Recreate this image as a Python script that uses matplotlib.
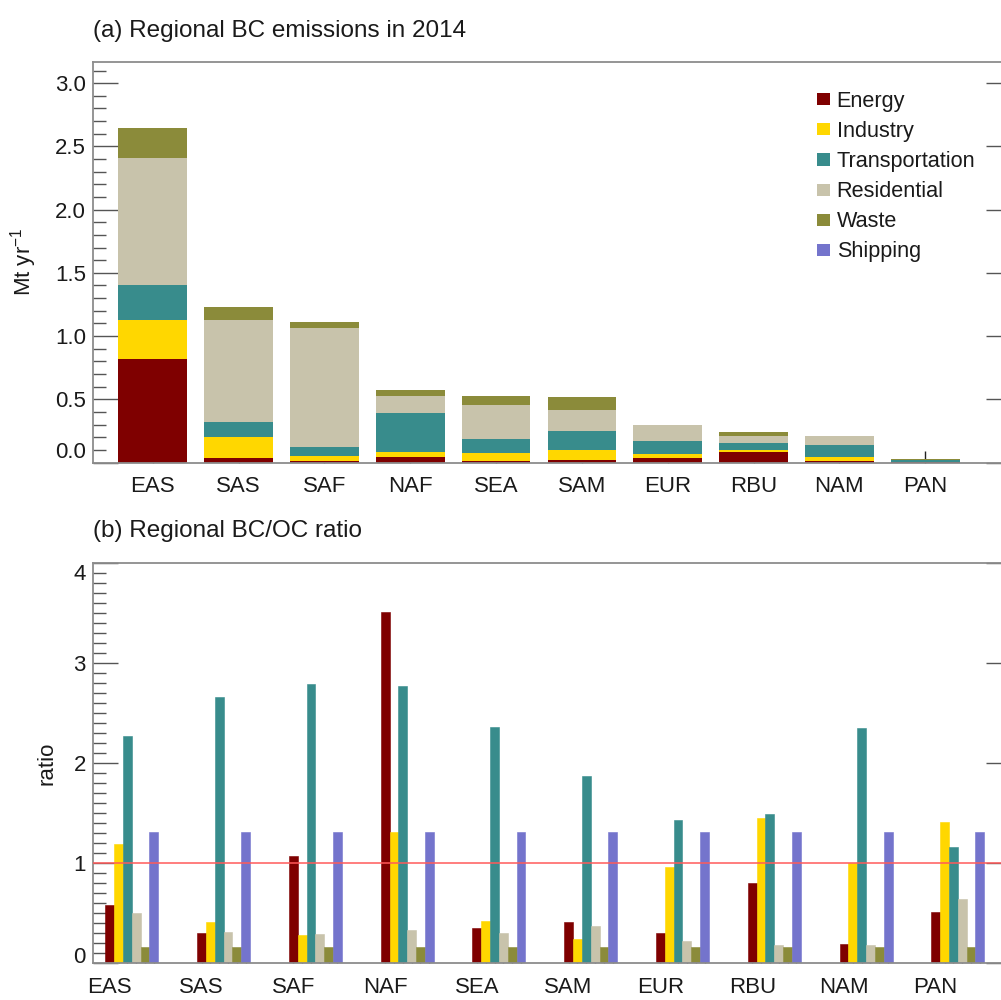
import matplotlib
matplotlib.use("Agg")
import matplotlib.pyplot as plt
from matplotlib.patches import Patch
from matplotlib.ticker import FixedLocator, MultipleLocator
from matplotlib.transforms import ScaledTranslation
import numpy as np

plt.rcParams["font.family"] = ["Liberation Sans", "DejaVu Sans"]
plt.rcParams["mathtext.fontset"] = "custom"
plt.rcParams["mathtext.rm"] = "Liberation Sans"
plt.rcParams["mathtext.it"] = "Liberation Sans:italic"

regions = ["EAS", "SAS", "SAF", "NAF", "SEA", "SAM", "EUR", "RBU", "NAM", "PAN"]
sectors = ["Energy", "Industry", "Transportation", "Residential", "Waste", "Shipping"]
sector_colors = ["#7f0000", "#ffd700", "#388c8c", "#c8c3ab", "#8b8b3a", "#7474cc"]

# BC emissions by sector, Mt/yr
bc_energy = [0.82, 0.034, 0.012, 0.046, 0.013, 0.021, 0.034, 0.080, 0.011, 0.001]
bc_industry = [0.31, 0.165, 0.041, 0.037, 0.064, 0.074, 0.032, 0.016, 0.035, 0.002]
bc_transport = [0.27, 0.125, 0.072, 0.310, 0.108, 0.151, 0.104, 0.059, 0.094, 0.015]
bc_residential = [1.01, 0.800, 0.935, 0.130, 0.273, 0.172, 0.125, 0.051, 0.066, 0.004]
bc_waste = [0.235, 0.103, 0.053, 0.050, 0.068, 0.101, 0.000, 0.032, 0.000, 0.003]
bc_shipping = [0.0, 0.0, 0.0, 0.0, 0.0, 0.0, 0.004, 0.0, 0.004, 0.0]

# BC/OC ratio by sector
ratio_energy = [0.58, 0.30, 1.07, 3.51, 0.35, 0.41, 0.30, 0.80, 0.19, 0.51]
ratio_industry = [1.19, 0.41, 0.28, 1.31, 0.42, 0.24, 0.96, 1.45, 1.00, 1.41]
ratio_transport = [2.27, 2.66, 2.79, 2.77, 2.36, 1.87, 1.43, 1.49, 2.35, 1.16]
ratio_residential = [0.50, 0.31, 0.29, 0.33, 0.30, 0.37, 0.22, 0.18, 0.18, 0.64]
ratio_waste = [0.16, 0.16, 0.16, 0.16, 0.16, 0.16, 0.16, 0.16, 0.16, 0.16]
ratio_shipping = [1.31, 1.31, 1.31, 1.31, 1.31, 1.31, 1.31, 1.31, 1.31, 1.31]

emissions = [bc_energy, bc_industry, bc_transport, bc_residential, bc_waste, bc_shipping]
ratios = [ratio_energy, ratio_industry, ratio_transport, ratio_residential, ratio_waste, ratio_shipping]

W, H = 1001, 1000
fig = plt.figure(figsize=(W / 100, H / 100), dpi=100)

spine_col = "#8c8c8c"
text_col = "#1a1a1a"
fs_tick = 16
fs_label = 16
fs_title = 17.5
fs_leg = 15.6


def px_axes(left, top, right, bottom):
    return fig.add_axes([left / W, 1 - bottom / H, (right - left) / W, (bottom - top) / H])


def style_axes(ax):
    for s in ax.spines.values():
        s.set_color(spine_col)
        s.set_linewidth(1.3)
    ax.tick_params(axis="y", which="major", direction="in", left=True, right=True,
                   length=18, width=1.0, color="#555555", labelsize=fs_tick,
                   labelcolor=text_col, pad=5)
    ax.tick_params(axis="y", which="minor", direction="in", left=True, right=False,
                   length=9, width=1.0, color="#555555")
    ax.tick_params(axis="x", which="both", direction="in", bottom=True, top=False,
                   length=8, width=1.0, color="#222222", labelsize=fs_tick,
                   labelcolor=text_col, pad=10)


def shift_label(ax, idx, dy_px):
    lab = ax.yaxis.get_major_ticks()[idx].label1
    lab.set_transform(lab.get_transform() + ScaledTranslation(0, dy_px / 100, fig.dpi_scale_trans))


# ---- (a) stacked emissions ----
ax1 = px_axes(92.7, 61.7, 1011, 462.5)
x = np.arange(len(regions))
bottom = np.zeros(len(regions))
for vals, col in zip(emissions, sector_colors):
    vals = np.asarray(vals)
    ax1.bar(x, vals, width=0.8, bottom=bottom, color=col, edgecolor="none", zorder=2)
    bottom += vals
ax1.set_xlim(-0.7, 10.0)
ax1.set_ylim(0, 3.17)
ax1.yaxis.set_major_locator(FixedLocator([0.0, 0.5, 1.0, 1.5, 2.0, 2.5, 3.0]))
ax1.yaxis.set_minor_locator(MultipleLocator(0.1))
ax1.set_yticklabels(["0.0", "0.5", "1.0", "1.5", "2.0", "2.5", "3.0"])
ax1.set_xticks(x)
ax1.set_xticklabels(regions)
style_axes(ax1)
ax1.tick_params(axis="x", length=9)
for t in ax1.xaxis.get_major_ticks():
    t.tick1line.set_zorder(5)
shift_label(ax1, 0, 13)
ax1.set_ylabel("Mt yr$^{-1}$", fontsize=fs_label, color=text_col)
ax1.yaxis.set_label_coords((39 - 92.7) / (1011 - 92.7), 0.5)
ax1.set_title("(a) Regional BC emissions in 2014", loc="left", fontsize=fs_title,
              color=text_col, pad=18)
handles = [Patch(facecolor=c, edgecolor="none") for c in sector_colors]
ax1.legend(handles, sectors, loc="upper left", bbox_to_anchor=(817 / W, 1 - 91 / H),
           bbox_transform=fig.transFigure, frameon=False, fontsize=fs_leg,
           handlelength=0.58, handleheight=0.48, handletextpad=0.33,
           labelspacing=0.42, borderpad=0, borderaxespad=0, labelcolor=text_col)

# ---- (b) BC/OC ratio ----
ax2 = px_axes(92.7, 562.5, 1011, 963.3)
bw = 0.0962
for k, (vals, col) in enumerate(zip(ratios, sector_colors)):
    ax2.bar(x + k * bw, vals, width=bw, color=col, edgecolor=col, linewidth=0.4,
            zorder=2)
ax2.axhline(1.0, color="#ff5a5a", linewidth=1.1, zorder=4)
ax2.set_xlim(-0.186, 9.82)
ax2.set_ylim(0, 4)
ax2.yaxis.set_major_locator(FixedLocator([0, 1, 2, 3, 4]))
ax2.yaxis.set_minor_locator(MultipleLocator(0.1))
ax2.set_yticklabels(["0", "1", "2", "3", "4"])
ax2.set_xticks(x)
ax2.set_xticklabels(regions)
ax2.set_xticks((x[:, None] + np.arange(1, 6)[None, :] * bw).ravel(), minor=True)
style_axes(ax2)
for t in ax2.xaxis.get_major_ticks() + ax2.xaxis.get_minor_ticks():
    t.tick1line.set_zorder(5)
shift_label(ax2, 0, 8)
shift_label(ax2, 4, -9)
ax2.set_ylabel("ratio", fontsize=fs_label, color=text_col)
ax2.yaxis.set_label_coords((57 - 92.7) / (1011 - 92.7), 0.5)
ax2.set_title("(b) Regional BC/OC ratio", loc="left", fontsize=fs_title,
              color=text_col, pad=18)

fig.savefig("out.png", dpi=100)
